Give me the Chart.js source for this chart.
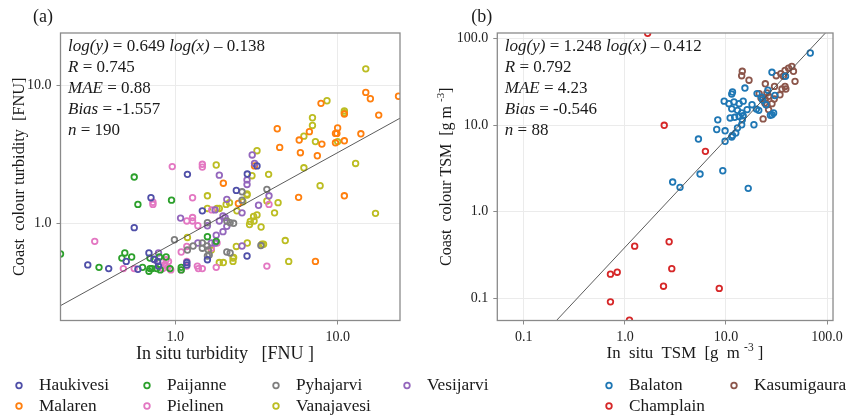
<!DOCTYPE html>
<html><head><meta charset="utf-8">
<script src="https://cdn.jsdelivr.net/npm/chart.js@4.4.1/dist/chart.umd.min.js"></script>
<style>
html,body{margin:0;padding:0;background:#fff;}
#wrap{position:relative;width:847px;height:417px;overflow:hidden;}
canvas{position:absolute;top:0;}
</style></head><body>
<div id="wrap">
<canvas id="cB" width="427" height="417" style="left:420px"></canvas>
<canvas id="cA" width="520" height="417" style="left:0px"></canvas>
</div>
<script>
// ---------------- DATA ----------------
// Panel (a): turbidity [FNU], pairs are [in situ, Coast colour]
const haukivesi = [[1.19,2.26],[2.78,2.27],[3.19,2.60],[2.38,1.73],[0.71,1.53],[1.47,1.23],[0.56,0.93],[2.77,0.58],[1.58,0.545],[1.18,0.50],[0.78,0.53],[0.69,0.61],[0.74,0.55],[0.59,0.465],[0.50,0.53],[0.39,0.47],[0.29,0.50],[0.79,0.49],[1.18,0.52]];
const paijanne = [[0.56,2.16],[0.95,1.47],[0.59,1.37],[1.58,0.80],[1.09,0.48],[1.09,0.46],[0.93,0.47],[0.88,0.57],[0.81,0.46],[0.77,0.47],[0.69,0.45],[0.70,0.47],[0.63,0.48],[0.70,0.56],[0.49,0.61],[0.47,0.56],[0.54,0.57],[0.34,0.48],[0.197,0.60],[1.79,0.74],[0.80,0.57],[0.72,0.47]];
const pyhajarvi = [[2.58,1.69],[3.67,1.76],[2.58,1.47],[2.18,1.01],[2.29,1.00],[2.08,1.04],[1.58,1.01],[0.99,0.76],[1.29,0.685],[1.19,0.64],[1.47,0.72],[1.47,0.66],[1.57,0.685],[3.37,0.69],[2.08,0.62],[2.18,0.61],[1.58,0.58],[1.60,0.64],[1.62,0.59]];
const vesijarvi = [[2.98,3.12],[3.08,2.71],[1.87,2.23],[2.77,2.06],[2.77,1.91],[2.08,1.49],[3.78,1.58],[1.76,1.25],[1.97,1.13],[2.03,1.10],[1.87,1.04],[2.08,0.95],[1.97,0.87],[1.79,0.82],[1.58,0.96],[1.08,1.09],[1.38,0.72],[1.67,0.72],[1.76,0.72],[0.79,0.61],[0.75,0.545],[3.26,1.35],[2.58,1.19],[2.58,0.685]];
const malaren = [[14.9,8.85],[15.9,7.96],[23.7,8.3],[17.9,6.06],[7.9,7.37],[11.0,6.17],[10.0,4.9],[9.7,4.47],[9.9,4.47],[9.7,3.82],[11.0,3.95],[13.9,4.44],[6.7,4.6],[5.8,4.0],[8.0,3.74],[7.5,3.08],[5.9,3.24],[4.25,4.83],[4.4,3.54],[1.98,1.95],[3.08,2.6],[5.75,1.54],[11.0,1.58],[2.45,1.39],[7.3,0.53]];
const pielinen = [[0.96,2.57],[1.47,2.67],[1.47,2.55],[1.28,1.53],[0.73,1.42],[0.73,1.37],[3.78,1.37],[1.38,0.96],[1.28,1.10],[1.28,1.04],[1.18,1.04],[0.32,0.74],[1.67,0.66],[1.81,0.72],[3.67,0.49],[1.79,0.48],[1.37,0.49],[1.39,0.47],[1.47,0.47],[1.18,0.53],[1.18,0.49],[1.09,0.46],[0.94,0.46],[0.91,0.53],[0.88,0.545],[0.84,0.53],[0.81,0.49],[0.84,0.47],[0.56,0.47],[0.48,0.47],[1.68,1.25],[1.09,0.62],[1.18,0.68],[0.86,0.50],[0.90,0.48]];
const vanajavesi = [[14.9,13.1],[8.6,7.7],[7.0,5.8],[7.0,5.1],[6.2,4.27],[7.3,3.9],[11.0,6.5],[11.0,6.3],[10.0,3.9],[12.9,2.71],[6.2,2.52],[7.8,1.87],[3.19,3.35],[3.76,2.26],[2.97,2.21],[1.79,2.64],[1.58,1.58],[2.77,1.63],[17.1,1.18],[2.77,1.60],[2.61,1.43],[2.16,1.41],[2.06,1.37],[3.67,1.45],[4.3,1.41],[4.09,1.19],[3.19,1.15],[3.04,1.12],[2.90,1.03],[2.87,0.98],[3.38,0.94],[1.58,1.28],[1.81,1.28],[1.87,1.28],[1.19,0.79],[1.67,0.64],[2.78,0.72],[2.38,0.68],[3.42,0.705],[3.50,0.705],[4.76,0.75],[2.29,0.565],[2.27,0.53],[1.98,0.52],[1.87,0.52],[5.0,0.53],[3.06,1.04],[2.27,0.56],[2.4,1.23]];
// Panel (b): TSM [g m-3]
const balaton = [[2.97,2.2],[3.51,1.91],[5.54,2.72],[9.3,2.97],[16.6,1.86],[68.2,68],[28.5,40.7],[38.8,36.6],[15.4,26.8],[11.6,24.1],[11.4,22.8],[9.6,18.9],[10.7,17.7],[12.0,18.5],[13.5,17.7],[14.8,18.9],[11.4,15.4],[13.0,14.8],[14.3,13.8],[16.2,15.1],[18.1,17.2],[20.3,23.1],[26.0,25.3],[20.0,15.3],[21.1,14.8],[14.8,12.8],[13.5,12.6],[11.0,12.1],[12.2,12.3],[8.3,11.5],[14.5,11.5],[14.3,10.1],[13.0,9.3],[18.9,10.1],[8.1,8.9],[9.8,8.6],[12.5,8.1],[11.6,7.6],[11.4,7.3],[9.8,6.5],[5.34,6.9],[28.5,13.2],[29.6,13.8],[27.5,13.0],[24.9,17.2],[22.5,21.0],[30.5,22.0],[23.0,19.5]];
const kasumigaura = [[14.5,41.8],[14.3,37.2],[16.9,33],[24.5,30],[31.4,37.2],[34.9,39.2],[38.4,42.8],[41.6,45.5],[44.8,47.6],[46.5,41.8],[37.0,36.6],[48.2,32],[38.4,28],[35.8,26.1],[39.1,26.1],[34.2,22.4],[30.2,28],[25.4,23.5],[21.3,23.1],[22.2,20.5],[24.5,19.7],[26.4,21.5],[28.5,17.7],[25.4,17.2],[24.2,18.0],[26.4,15.1],[23.3,11.8],[30.0,20.0]];
const champlain = [[1.25,0.40],[2.74,0.45],[0.72,0.19],[0.84,0.20],[2.91,0.22],[2.41,0.138],[8.58,0.13],[0.72,0.091],[1.11,0.056],[2.45,9.95],[6.26,4.98],[1.68,115]];

const namesA = ['Haukivesi','Paijanne','Pyhajarvi','Vesijarvi','Malaren','Pielinen','Vanajavesi'];
const seriesA = [haukivesi,paijanne,pyhajarvi,vesijarvi,malaren,pielinen,vanajavesi];
const namesB = ['Balaton','Kasumigaura','Champlain'];
const seriesB = [balaton,kasumigaura,champlain];

const ticksA = [1,10];
const tickLabelsA = ['1.0','10.0'];
const ticksB = [0.1,1,10,100];
const tickLabelsB = ['0.1','1.0','10.0','100.0'];

const fitSlope = [0.649, 1.248];
const fitIntercept = [-0.138, -0.412];
const statR = ['0.745','0.792'];
const statMAE = ['0.88','4.23'];
const statBias = ['-1.557','-0.546'];
const statN = ['190','88'];

// ---------------- STYLE ----------------
const colorsA = ['#4f4fa8','#2ca02c','#7f7f7f','#9467bd','#ff7f0e','#e377c2','#bcbd22'];
const colorsB = ['#1f77b4','#8c564b','#d62728'];
const SERIF = '"Liberation Serif", "Times New Roman", serif';

function fontFor(seg, size){
  const sz = seg.sup ? size*0.68 : size;
  return (seg.it ? 'italic ' : '') + sz + 'px ' + SERIF;
}
function drawRich(ctx, segs, x, y, size, align){
  let w = 0;
  segs.forEach(s=>{ctx.font=fontFor(s,size); w += ctx.measureText(s.t).width;});
  let cx = align==='center' ? x - w/2 : x;
  ctx.textAlign='left'; ctx.textBaseline='middle';
  segs.forEach(s=>{
    ctx.font=fontFor(s,size);
    ctx.fillText(s.t, cx, s.sup ? y - size*0.38 : y);
    cx += ctx.measureText(s.t).width;
  });
}

function makePlugin(p){
  return {
    id:'deco'+p.idx,
    afterDraw(chart){
      const ctx = chart.ctx, a = chart.chartArea;
      ctx.save();
      // frame
      ctx.strokeStyle='#8a8a8a'; ctx.lineWidth=1.3;
      ctx.strokeRect(a.left, a.top, a.right-a.left, a.bottom-a.top);
      ctx.fillStyle='#1a1a1a';
      // stats annotation
      const i = p.idx;
      const sl = fitSlope[i].toFixed(3), ic = Math.abs(fitIntercept[i]).toFixed(3);
      const lines = [
        [{t:'log(y)',it:1},{t:' = '+sl+' '},{t:'log(x)',it:1},{t:' – '+ic}],
        [{t:'R',it:1},{t:' = '+statR[i]}],
        [{t:'MAE',it:1},{t:' = '+statMAE[i]}],
        [{t:'Bias',it:1},{t:' = '+statBias[i]}],
        [{t:'n',it:1},{t:' = '+statN[i]}]
      ];
      lines.forEach((l,k)=>drawRich(ctx,l,a.left+p.annDx,47+k*20.8,17,'left'));
      // panel label
      drawRich(ctx,[{t:p.panel}],p.panelX,17,18,'center');
      // x title
      drawRich(ctx,p.xTitle,p.xTitleX,354,p.xTitleSize,'center');
      // y title
      ctx.save();
      ctx.translate(p.yTitleX,(a.top+a.bottom)/2);
      ctx.rotate(-Math.PI/2);
      drawRich(ctx,p.yTitle,0,0,p.yTitleSize,'center');
      ctx.restore();
      // legend
      p.legend.forEach(e=>{
        ctx.beginPath();
        ctx.arc(e.x,e.y,2.8,0,Math.PI*2);
        ctx.strokeStyle=e.c; ctx.lineWidth=1.8; ctx.stroke();
        ctx.fillStyle='#1a1a1a';
        drawRich(ctx,[{t:e.n}],e.x+20,e.y,17.3,'left');
      });
      ctx.restore();
    }
  };
}

function buildChart(id, names, series, colors, xr, yr, ticks, tickLabels, idx, deco, yW, pad){
  const datasets = [];
  const xs = [xr[0], xr[1]];
  datasets.push({
    type:'scatter', showLine:true, data: xs.map(x=>({x:x, y:Math.pow(10, fitSlope[idx]*Math.log10(x)+fitIntercept[idx])})),
    borderColor:'#4a4a4a', borderWidth:0.9, pointRadius:0, fill:false
  });
  series.forEach((s,k)=>{
    datasets.push({
      label:names[k], data:s.map(p=>({x:p[0],y:p[1]})),
      borderColor:colors[k], backgroundColor:'rgba(0,0,0,0)',
      pointRadius:2.8, pointBorderWidth:1.8, pointHoverRadius:2.8
    });
  });
  const tickFont = {family:SERIF, size:14};
  const axis = (min,max,isX)=>({
    type:'logarithmic', min:min, max:max,
    afterBuildTicks:(s)=>{ s.ticks = ticks.map(v=>({value:v, major:false})); },
    ticks:{ callback:(v,i)=>tickLabels[i], font:tickFont, color:'#222', padding:isX?4:5, autoSkip:false, maxRotation:0, minRotation:0 },
    grid:{ color:'#ebebeb', lineWidth:1, tickLength:4, tickColor:'#8a8a8a', drawTicks:true },
    border:{ display:false },
    afterFit:(s)=>{ if(isX) s.height=49.5; else s.width=yW; }
  });
  return new Chart(document.getElementById(id), {
    type:'scatter',
    data:{datasets},
    options:{
      responsive:false, animation:false, devicePixelRatio:1,
      layout:{ padding:pad },
      plugins:{ legend:{display:false}, tooltip:{enabled:false} },
      scales:{ x:axis(xr[0],xr[1],true), y:axis(yr[0],yr[1],false) }
    },
    plugins:[deco]
  });
}

const decoA = makePlugin({
  idx:0, panel:'(a)', panelX:43, annDx:7.5,
  xTitle:[{t:'In situ turbidity   [FNU ]'}], xTitleX:225, xTitleSize:18,
  yTitle:[{t:'Coast  colour turbidity  [FNU]'}], yTitleX:20, yTitleSize:16.3,
  legend:[
    {n:namesA[0],c:colorsA[0],x:19,y:385.5},{n:namesA[1],c:colorsA[1],x:147,y:385.5},
    {n:namesA[2],c:colorsA[2],x:276,y:385.5},{n:namesA[3],c:colorsA[3],x:407,y:385.5},
    {n:namesA[4],c:colorsA[4],x:19,y:406},{n:namesA[5],c:colorsA[5],x:147,y:406},
    {n:namesA[6],c:colorsA[6],x:276,y:406}
  ]
});
const decoB = makePlugin({
  idx:1, panel:'(b)', panelX:61.7, annDx:7.5,
  xTitle:[{t:'In  situ  TSM  [g  m '},{t:'-3',sup:1},{t:' ]'}], xTitleX:265, xTitleSize:16.8,
  yTitle:[{t:'Coast  colour TSM  [g m '},{t:'-3',sup:1},{t:']'}], yTitleX:27, yTitleSize:16,
  legend:[
    {n:namesB[0],c:colorsB[0],x:189,y:385.5},{n:namesB[1],c:colorsB[1],x:314,y:385.5},
    {n:namesB[2],c:colorsB[2],x:189,y:406}
  ]
});

buildChart('cA', namesA, seriesA, colorsA, [0.197,24.2], [0.198,23.8], ticksA, tickLabelsA, 0, decoA, 60.5, {top:33,right:120,bottom:47,left:0});
buildChart('cB', namesB, seriesB, colorsB, [0.0547,114.5], [0.0554,115.8], ticksB, tickLabelsB, 1, decoB, 77.3, {top:33,right:10.3,bottom:47,left:0});
</script>
</body></html>
